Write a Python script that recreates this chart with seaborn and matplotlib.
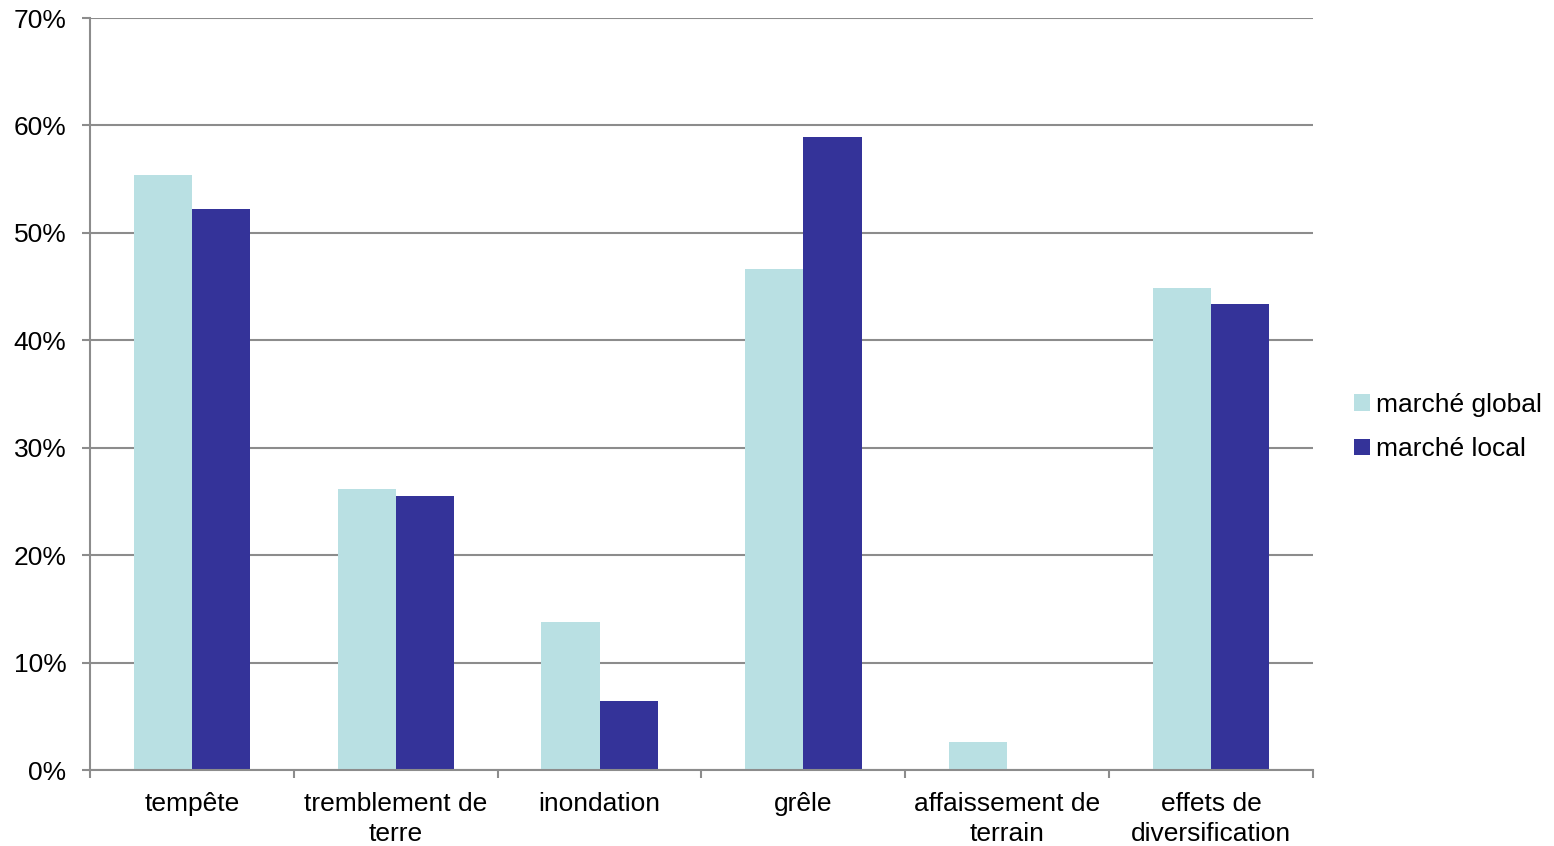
import matplotlib
matplotlib.use("Agg")
import matplotlib.pyplot as plt
import seaborn as sns
import pandas as pd
from matplotlib.ticker import FixedLocator, PercentFormatter

categories = ["tempête", "tremblement de\nterre", "inondation", "grêle",
              "affaissement de\nterrain", "effets de\ndiversification"]
series_names = ["marché global", "marché local"]
global_values = [55.4, 26.2, 13.8, 46.6, 2.6, 44.9]
local_values = [52.2, 25.5, 6.4, 58.9, 0.0, 43.4]
y_ticks = [0, 10, 20, 30, 40, 50, 60, 70]

colors = ["#B9E0E3", "#343399"]

df = pd.DataFrame({
    "category": categories * 2,
    "series": [series_names[0]] * len(categories) + [series_names[1]] * len(categories),
    "value": global_values + local_values,
})

sns.set_theme(style="white")
plt.rcParams["font.family"] = ["Liberation Sans", "DejaVu Sans"]
plt.rcParams["text.color"] = "black"

fig = plt.figure(figsize=(15.54, 8.46), dpi=100)
ax = fig.add_axes([90 / 1554, 1 - 770 / 846, (1313 - 90) / 1554, (770 - 18) / 846])

sns.barplot(data=df, x="category", y="value", hue="series", order=categories,
            hue_order=series_names, palette=colors, width=0.57, saturation=1,
            edgecolor="none", linewidth=0, ax=ax, legend=True)

ax.set_xlim(-0.5, len(categories) - 0.5)
ax.set_ylim(0, 70)
ax.set_yticks(y_ticks)
ax.yaxis.set_major_formatter(PercentFormatter(decimals=0))
ax.set_xlabel("")
ax.set_ylabel("")

grid_color = "#8C8C8C"
ax.set_axisbelow(True)
ax.yaxis.grid(True, color=grid_color, linewidth=1.5)
ax.xaxis.grid(False)

for side in ["top", "right"]:
    ax.spines[side].set_visible(False)
for side in ["left", "bottom"]:
    ax.spines[side].set_color(grid_color)
    ax.spines[side].set_linewidth(1.5)

ax.tick_params(axis="y", which="major", length=6, width=1.5, color=grid_color,
               direction="out", left=True, pad=11, labelsize=19, labelcolor="black")
ax.tick_params(axis="x", which="major", length=0, pad=16, labelsize=19,
               labelcolor="black")
ax.xaxis.set_minor_locator(FixedLocator([i - 0.5 for i in range(len(categories) + 1)]))
ax.tick_params(axis="x", which="minor", length=6, width=1.5, color=grid_color,
               direction="out", bottom=True)
for lbl in ax.get_xticklabels():
    lbl.set_linespacing(1.28)

leg = ax.legend(loc="center left", bbox_to_anchor=(1354 / 1554, 1 - 427 / 846),
                bbox_transform=fig.transFigure, frameon=False, fontsize=19,
                handlelength=0.6, handleheight=0.6, handletextpad=0.25,
                labelspacing=0.78, borderaxespad=0, borderpad=0)
for t in leg.get_texts():
    t.set_color("black")

fig.savefig("out.png", dpi=100, facecolor="white")
